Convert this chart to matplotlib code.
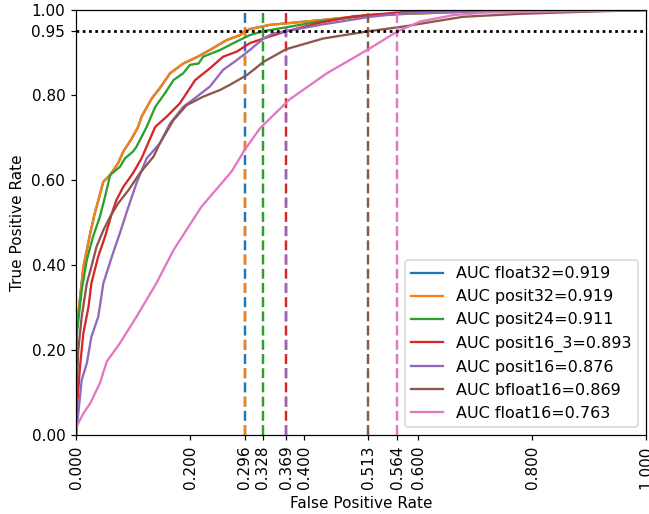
import matplotlib
matplotlib.use("Agg")
import numpy as np
from matplotlib import pyplot as plt

plt.rcParams['lines.scale_dashes'] = False

names = ['float32', 'posit32', 'posit24', 'posit16_3', 'posit16', 'bfloat16', 'float16']
aucs = [0.919, 0.919, 0.911, 0.893, 0.876, 0.869, 0.763]
fpr_at_95 = [0.296, 0.296, 0.328, 0.369, 0.369, 0.513, 0.564]

fpr_float32 = [0, 0.001, 0.013, 0.025, 0.033, 0.048, 0.06, 0.074, 0.083, 0.098, 0.109, 0.115, 0.133, 0.147,
               0.165, 0.188, 0.212, 0.235, 0.264, 0.288, 0.296, 0.305, 0.34, 0.428, 0.516, 0.69, 0.84, 1.0]
tpr_float32 = [0, 0.247, 0.396, 0.475, 0.522, 0.596, 0.612, 0.64, 0.667, 0.698, 0.725, 0.749, 0.792, 0.816,
               0.851, 0.874, 0.889, 0.906, 0.929, 0.941, 0.95, 0.955, 0.965, 0.976, 0.988, 0.996, 0.998, 1.0]

fpr_posit32 = [0, 0.001, 0.013, 0.025, 0.033, 0.048, 0.06, 0.074, 0.083, 0.098, 0.109, 0.115, 0.133, 0.147,
               0.165, 0.188, 0.212, 0.235, 0.264, 0.288, 0.296, 0.305, 0.34, 0.428, 0.516, 0.69, 0.84, 1.0]
tpr_posit32 = [0, 0.247, 0.396, 0.475, 0.522, 0.596, 0.612, 0.64, 0.667, 0.698, 0.725, 0.749, 0.792, 0.816,
               0.851, 0.874, 0.889, 0.906, 0.929, 0.941, 0.95, 0.955, 0.965, 0.976, 0.988, 0.996, 0.998, 1.0]

fpr_posit24 = [0, 0.001, 0.01, 0.019, 0.03, 0.042, 0.051, 0.06, 0.077, 0.086, 0.1, 0.106, 0.124, 0.139,
               0.156, 0.171, 0.188, 0.2, 0.215, 0.223, 0.253, 0.276, 0.305, 0.328, 0.428, 0.516, 0.66, 1.0]
tpr_posit24 = [0, 0.231, 0.341, 0.412, 0.467, 0.514, 0.561, 0.612, 0.631, 0.651, 0.667, 0.678, 0.725, 0.772,
               0.804, 0.835, 0.851, 0.871, 0.874, 0.89, 0.906, 0.922, 0.941, 0.95, 0.973, 0.988, 0.996, 1.0]

fpr_posit16_3 = [0, 0.001, 0.007, 0.013, 0.022, 0.027, 0.039, 0.051, 0.063, 0.071, 0.083, 0.1, 0.115, 0.139,
                 0.159, 0.182, 0.209, 0.235, 0.258, 0.282, 0.305, 0.329, 0.369, 0.428, 0.486, 0.574, 0.7, 1.0]
tpr_posit16_3 = [0, 0.051, 0.161, 0.24, 0.302, 0.357, 0.42, 0.467, 0.522, 0.553, 0.584, 0.616, 0.651, 0.725,
                 0.749, 0.78, 0.835, 0.863, 0.89, 0.902, 0.922, 0.933, 0.95, 0.97, 0.985, 0.995, 0.999, 1.0]

fpr_posit16 = [0, 0.004, 0.01, 0.019, 0.027, 0.039, 0.048, 0.063, 0.077, 0.092, 0.106, 0.124, 0.147, 0.165,
               0.188, 0.212, 0.235, 0.258, 0.282, 0.305, 0.329, 0.346, 0.369, 0.428, 0.516, 0.574, 0.7, 1.0]
tpr_posit16 = [0, 0.051, 0.129, 0.169, 0.231, 0.278, 0.357, 0.42, 0.475, 0.537, 0.592, 0.651, 0.686, 0.733,
               0.772, 0.796, 0.82, 0.859, 0.882, 0.906, 0.933, 0.945, 0.95, 0.965, 0.984, 0.992, 0.997, 1.0]

fpr_bfloat16 = [0, 0.001, 0.004, 0.01, 0.019, 0.027, 0.036, 0.048, 0.06, 0.074, 0.092, 0.112, 0.136, 0.147, 0.171,
                0.194, 0.223, 0.253, 0.27, 0.3, 0.329, 0.369, 0.434, 0.513, 0.574, 0.679, 0.779, 0.896, 1.0]
tpr_bfloat16 = [0, 0.106, 0.2, 0.278, 0.357, 0.396, 0.443, 0.482, 0.514, 0.545, 0.576, 0.616, 0.655, 0.686, 0.741,
                0.776, 0.796, 0.812, 0.824, 0.847, 0.878, 0.908, 0.933, 0.95, 0.961, 0.984, 0.991, 0.996, 1.0]

fpr_float16 = [0, 0.001, 0.013, 0.025, 0.042, 0.054, 0.077, 0.106, 0.141, 0.171, 0.22, 0.273, 0.296, 0.323,
               0.375, 0.44, 0.516, 0.564, 0.604, 0.662, 0.72, 1.0]
tpr_float16 = [0, 0.02, 0.051, 0.075, 0.122, 0.173, 0.216, 0.278, 0.357, 0.435, 0.537, 0.62, 0.671, 0.722,
               0.79, 0.851, 0.91, 0.95, 0.973, 0.988, 0.994, 1.0]

curves = [(fpr_float32, tpr_float32), (fpr_posit32, tpr_posit32), (fpr_posit24, tpr_posit24),
          (fpr_posit16_3, tpr_posit16_3), (fpr_posit16, tpr_posit16), (fpr_bfloat16, tpr_bfloat16),
          (fpr_float16, tpr_float16)]
colors = plt.rcParams['axes.prop_cycle'].by_key()['color']

fig = plt.figure(figsize=(649 / 110, 514 / 110), dpi=110)
ax = fig.add_axes([76 / 649, 79 / 514, 570 / 649, 425 / 514])

dash = (6.5, 2.8)
for i, (name, auc, (fpr, tpr)) in enumerate(zip(names, aucs, curves)):
    c = colors[i]
    ax.plot(fpr, tpr, color=c, lw=1.5, label='AUC %s=%.3f' % (name, auc))
    # second line on the same threshold only shows every other dash
    shared = i > 0 and fpr_at_95[i] == fpr_at_95[i - 1]
    pattern = (0, (dash[0], 2 * dash[1] + dash[0])) if shared else (0, dash)
    ax.axvline(fpr_at_95[i], color=c, lw=1.6, linestyle=pattern)

ax.axhline(0.95, color='black', lw=1.8, linestyle=(0, (1.8, 2.3)))

ax.set_xlim(0, 1)
ax.set_ylim(0, 1)
xt = sorted([0, 0.2, 0.4, 0.6, 0.8, 1.0] + sorted(set(fpr_at_95)))
ax.set_xticks(xt)
ax.set_xticklabels(['%.3f' % v for v in xt], rotation=90)
yt = [0, 0.2, 0.4, 0.6, 0.8, 0.95, 1.0]
ax.set_yticks(yt)
ax.set_yticklabels(['%.2f' % v for v in yt])
ax.set_xlabel('False Positive Rate')
ax.set_ylabel('True Positive Rate')
ax.legend(loc='lower right', fontsize=10.5)

plt.savefig('out.png', dpi=110)
